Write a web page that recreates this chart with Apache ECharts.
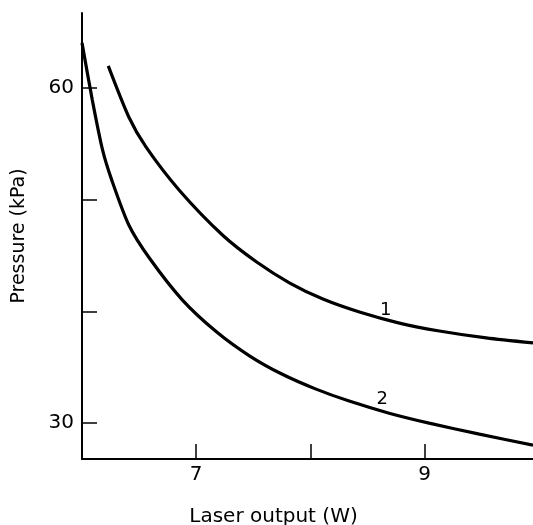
<!DOCTYPE html>
<html>
<head>
<meta charset="utf-8">
<script src="https://cdn.jsdelivr.net/npm/echarts@6/dist/echarts.min.js"></script>
<style>
  html, body { margin: 0; padding: 0; background: #fff; }
  #chart { width: 533px; height: 525px; }
</style>
</head>
<body>
<div id="chart"></div>
<script>
// Laser output (W) vs. pressure (kPa), two curves
const curve1 = [
  [6.23, 61.97], [6.41, 57.40], [6.56, 54.72], [6.85, 50.87], [7.23, 46.84],
  [7.53, 44.42], [7.82, 42.54], [8.11, 41.11], [8.43, 39.95], [8.78, 38.96],
  [9.13, 38.25], [9.54, 37.63], [9.95, 37.18]
];
const curve2 = [
  [6.00, 64.03], [6.09, 58.93], [6.18, 54.45], [6.26, 51.77], [6.41, 47.74],
  [6.59, 44.78], [6.88, 41.02], [7.18, 38.16], [7.47, 36.01], [7.75, 34.40],
  [8.05, 33.05], [8.34, 31.98], [8.69, 30.90], [9.04, 30.01], [9.48, 29.02],
  [9.95, 28.04]
];
const curveNames = ['1', '2'];
const curveLabelAt = [[8.66, 40.1], [8.63, 32.1]];

const xTicks = [7, 8, 9];
const xTickLabels = [7, 9];
const yTicks = [30, 40, 50, 60];
const yTickLabels = [30, 60];

const FONT = 'DejaVu Sans';
const chart = echarts.init(document.getElementById('chart'), null, { renderer: 'canvas' });

function curveSeries(data, name, labelAt) {
  return {
    type: 'line',
    name: name,
    data: data,
    smooth: 0.25,
    showSymbol: false,
    lineStyle: { color: '#000', width: 3.2 },
    markPoint: {
      symbol: 'circle',
      symbolSize: 0,
      data: [{ coord: labelAt, value: name }],
      label: {
        show: true,
        position: 'inside',
        formatter: name,
        color: '#000',
        fontFamily: FONT,
        fontSize: 18
      }
    }
  };
}

chart.setOption({
  animation: false,
  backgroundColor: '#fff',
  grid: { left: 82, right: 0, top: 13, bottom: 66, outerBoundsMode: 'none', containLabel: false },
  xAxis: {
    type: 'value',
    min: 6,
    max: 9.95,
    name: 'Laser output (W)',
    nameLocation: 'middle',
    nameGap: 48,
    nameTextStyle: { color: '#000', fontFamily: FONT, fontSize: 20, padding: [0, 68, 0, 0] },
    axisLine: { show: true, lineStyle: { color: '#000', width: 2 } },
    axisTick: { show: true, inside: true, length: 15, customValues: xTicks, lineStyle: { color: '#000', width: 1.5 } },
    axisLabel: { customValues: xTickLabels, color: '#000', fontFamily: FONT, fontSize: 20, margin: 6 },
    splitLine: { show: false }
  },
  yAxis: {
    type: 'value',
    min: 26.8,
    max: 66.7,
    name: 'Pressure (kPa)',
    nameLocation: 'middle',
    nameGap: 53,
    nameRotate: 90,
    nameTextStyle: { color: '#000', fontFamily: FONT, fontSize: 19 },
    axisLine: { show: true, lineStyle: { color: '#000', width: 2 } },
    axisTick: { show: true, inside: true, length: 15, customValues: yTicks, lineStyle: { color: '#000', width: 1.5 } },
    axisLabel: { customValues: yTickLabels, color: '#000', fontFamily: FONT, fontSize: 20, margin: 8 },
    splitLine: { show: false }
  },
  series: [
    curveSeries(curve1, curveNames[0], curveLabelAt[0]),
    curveSeries(curve2, curveNames[1], curveLabelAt[1])
  ]
});
</script>
</body>
</html>
